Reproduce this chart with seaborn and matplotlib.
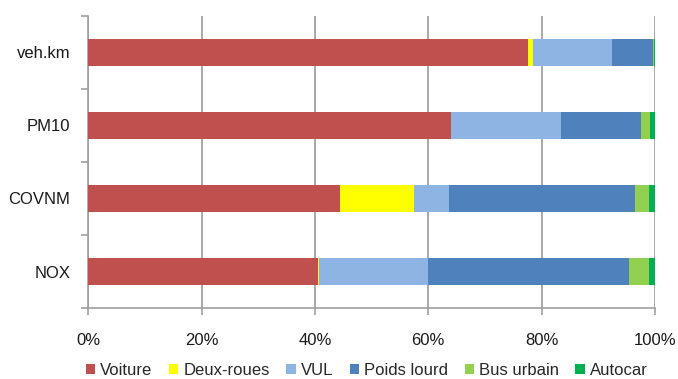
import numpy as np
import pandas as pd
import matplotlib
matplotlib.use("Agg")
import matplotlib.pyplot as plt
import seaborn as sns
from matplotlib.patches import Patch
from matplotlib.ticker import FixedLocator, PercentFormatter

# Share of each vehicle type (%), per indicator
categories = ["veh.km", "PM10", "COVNM", "NOX"]
voiture = [77.6, 64.0, 44.5, 40.5]
deux_roues = [0.9, 0.0, 13.0, 0.3]
vul = [14.0, 19.4, 6.2, 19.2]
poids_lourd = [7.1, 14.2, 32.7, 35.4]
bus_urbain = [0.3, 1.5, 2.5, 3.5]
autocar = [0.1, 0.9, 1.1, 1.1]

series_names = ["Voiture", "Deux-roues", "VUL", "Poids lourd", "Bus urbain", "Autocar"]
series_values = [voiture, deux_roues, vul, poids_lourd, bus_urbain, autocar]
colors = ["#C0504D", "#FFFF00", "#8EB4E3", "#4F81BD", "#92D050", "#00B050"]
x_ticks = [0, 20, 40, 60, 80, 100]

sns.set_theme(style="white")
plt.rcParams["font.family"] = ["Liberation Sans", "DejaVu Sans"]

fig = plt.figure(figsize=(6.78, 3.79), dpi=100)
ax = fig.add_axes([0.1302, 0.1870, 0.8358, 0.7716])

# Cumulative totals, drawn from the longest down so each segment shows on top
cum = np.cumsum(np.array(series_values), axis=0)
for i in range(len(series_names) - 1, -1, -1):
    df = pd.DataFrame({"cat": categories, "val": cum[i]})
    sns.barplot(data=df, x="val", y="cat", order=categories, orient="h",
                color=colors[i], saturation=1, width=0.37, ax=ax,
                edgecolor="none", linewidth=0, zorder=3)

ax.set_xlim(0, 100)
ax.set_ylim(len(categories) - 0.5, -0.5)
ax.set_xticks(x_ticks)
ax.xaxis.set_major_formatter(PercentFormatter(decimals=0))
ax.set_xlabel("")
ax.set_ylabel("")

# Vertical gridlines
ax.grid(axis="x", color="#9a9a9a", linewidth=1.2, zorder=0)
ax.grid(axis="y", visible=False)

for side in ["top", "right"]:
    ax.spines[side].set_visible(False)
for side in ["left", "bottom"]:
    ax.spines[side].set_visible(True)
    ax.spines[side].set_color("#a0a0a0")
    ax.spines[side].set_linewidth(1.2)

# Category separators as outward ticks on the y axis
ax.yaxis.set_minor_locator(FixedLocator(np.arange(-0.5, len(categories), 1.0)))
ax.tick_params(axis="y", which="major", length=0, pad=13, labelsize=12, colors="#1a1a1a")
ax.tick_params(axis="y", which="minor", length=5, width=1.2, color="#a0a0a0", left=True)
ax.tick_params(axis="x", which="major", length=5, width=1.2, color="#a0a0a0", bottom=True,
               pad=13, labelsize=12, labelcolor="#1a1a1a")

handles = [Patch(facecolor=c, edgecolor="none", label=n) for n, c in zip(series_names, colors)]
fig.legend(handles=handles, loc="center", bbox_to_anchor=(0.541, 0.022), ncol=6,
           frameon=False, fontsize=12, handlelength=0.55, handleheight=0.55,
           handletextpad=0.3, columnspacing=1.0, borderaxespad=0, borderpad=0)

fig.savefig("out.png", dpi=100)
